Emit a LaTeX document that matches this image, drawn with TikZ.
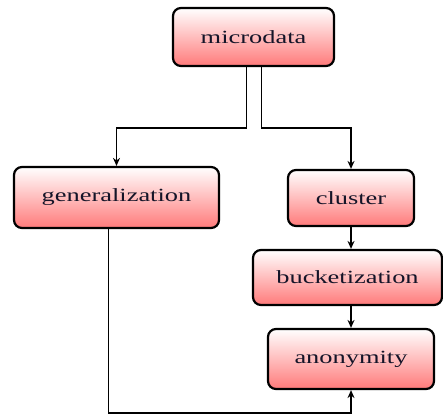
\documentclass[tikz,border=0pt]{standalone}
\usepackage{fontspec}
\setmainfont{Liberation Serif}
\usepackage{graphicx}
\usetikzlibrary{arrows.meta}
\definecolor{boxred}{RGB}{255,122,122}
\definecolor{txt}{RGB}{20,20,40}
\tikzset{
  blk/.style={draw=black, line width=2.2pt, rounded corners=8pt, top color=white, bottom color=boxred,
    inner sep=0pt, text=txt, font=\fontsize{18.6pt}{20pt}\selectfont},
  arr/.style={draw=black, line width=1.8pt, -{Stealth[length=8pt,width=7pt]}},
}
\newcommand{\wtext}[1]{\scalebox{1.42}[1]{#1}}
\begin{document}
\begin{tikzpicture}[x=1pt,y=1pt]
\useasboundingbox (0,0) rectangle (443,416);
\node[blk, minimum width=161pt, minimum height=58pt] (micro) at (253.5,379) {\wtext{microdata}};
\node[blk, minimum width=205pt, minimum height=61pt] (gen) at (116.5,218.5) {\wtext{generalization}};
\node[blk, minimum width=126pt, minimum height=56pt] (clu) at (351,218) {\wtext{cluster}};
\node[blk, minimum width=189pt, minimum height=55pt] (buc) at (347.5,138.5) {\wtext{bucketization}};
\node[blk, minimum width=166pt, minimum height=60pt] (anon) at (351,57) {\wtext{anonymity}};
\draw[arr] ([xshift=-7pt]micro.south) -- ++(0,-61) -| (gen.north);
\draw[arr] ([xshift=8pt]micro.south) -- ++(0,-61) -| (clu.north);
\draw[arr] (clu.south) -- (clu.south |- buc.north);
\draw[arr] (clu.south |- buc.south) -- (clu.south |- anon.north);
\draw[arr] ([xshift=-8pt]gen.south) -- ++(0,-184) -| (anon.south);
\end{tikzpicture}
\end{document}
